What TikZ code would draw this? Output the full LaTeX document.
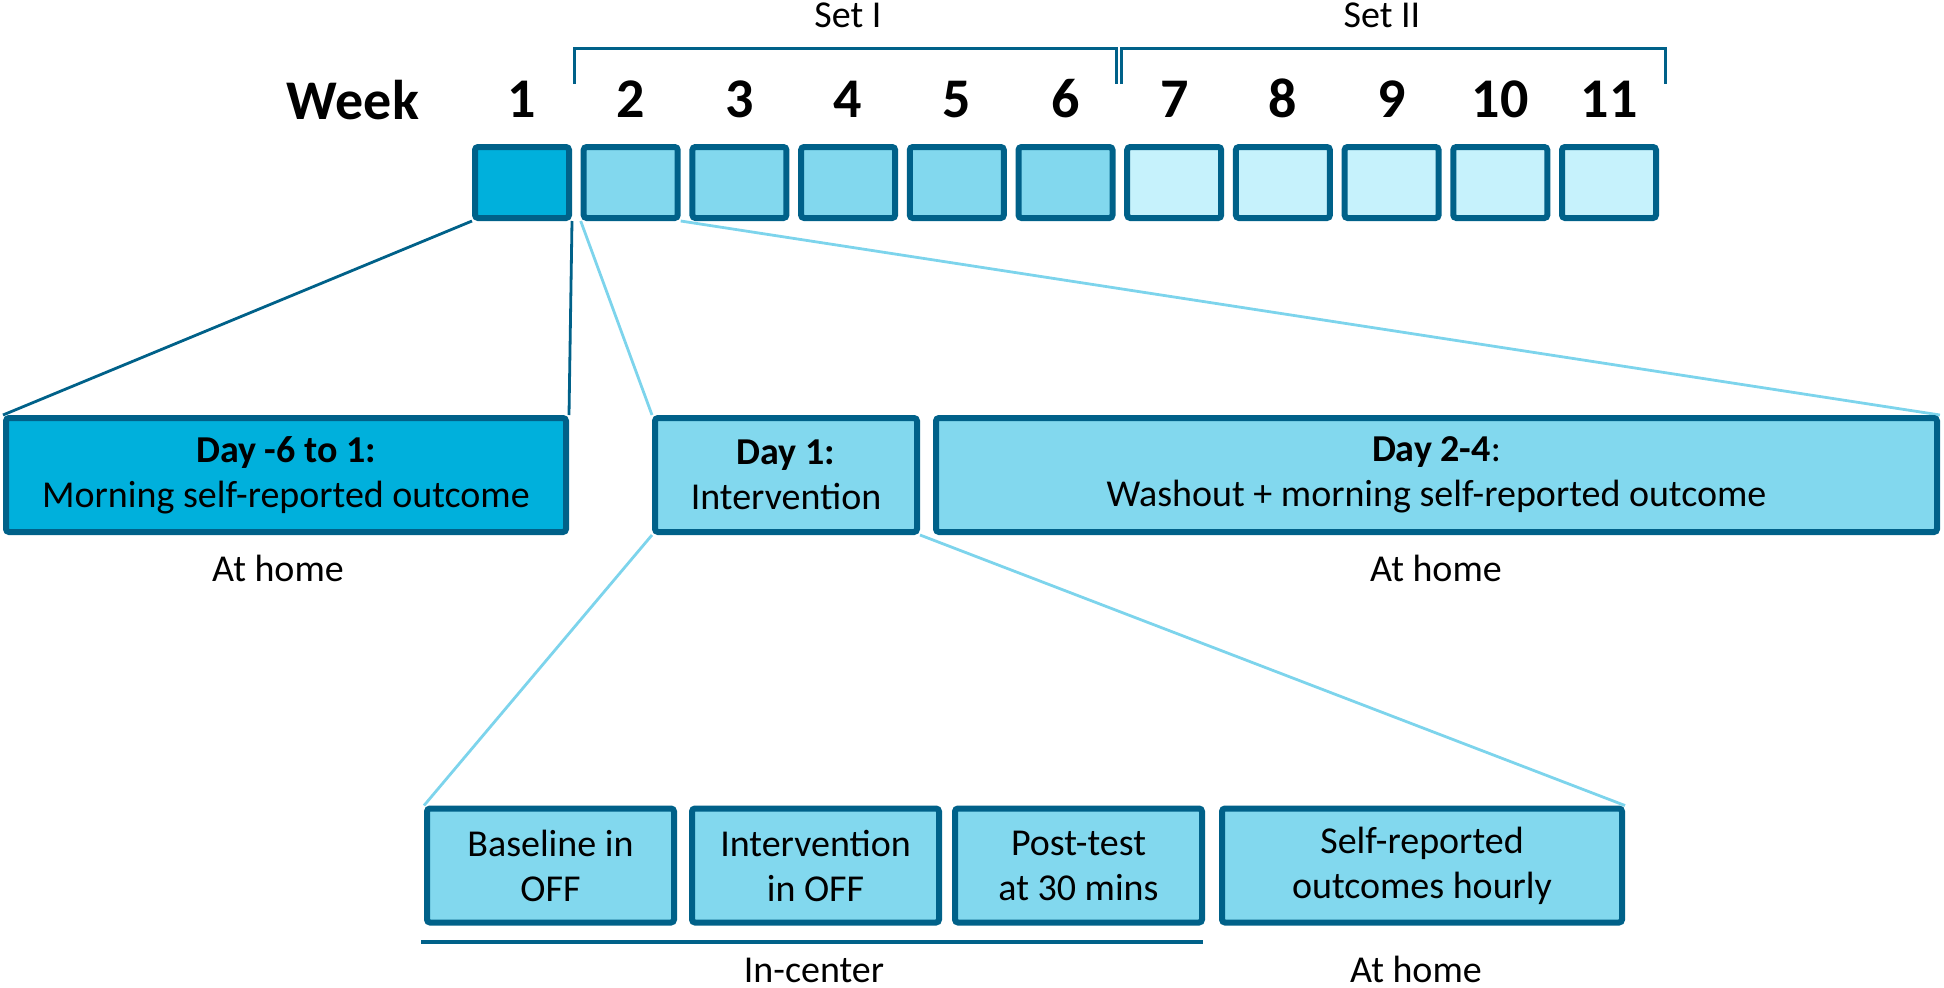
\documentclass[tikz,border=0pt]{standalone}
\usepackage{fontspec}
\setmainfont{Carlito}
\usetikzlibrary{calc}
\usetikzlibrary{backgrounds}

\definecolor{bordure}{RGB}{0,97,137}
\definecolor{cyanfonce}{RGB}{0,176,220}
\definecolor{cyanmoyen}{RGB}{130,216,238}
\definecolor{cyanclair}{RGB}{198,242,252}
\definecolor{traitclair}{RGB}{125,212,236}

\begin{document}
\begin{tikzpicture}[x=1pt,y=-1pt,
  every node/.style={font=\fontsize{38}{45}\selectfont},
  boite/.style={draw=bordure, line width=6pt, rounded corners=3pt, inner sep=0pt, align=center},
  weekbox/.style={boite, minimum width=94pt, minimum height=71pt},
  daybox/.style={boite, fill=cyanmoyen, minimum height=114pt},
  gros/.style={font=\fontsize{56}{60}\selectfont\bfseries},
  legende/.style={anchor=base, inner sep=0pt},
  crochet/.style={draw=bordure, line width=3pt},
  lienfonce/.style={draw=bordure, line width=2.8pt},
  lienclair/.style={draw=traitclair, line width=2.8pt}]

\useasboundingbox (0,0) rectangle (1944,988);

%%%%%%%%%%%%%%%%%%%%%%%%
%Semaines
%%%%%%%%%%%%%%%%%%%%%%%%

    %Pas entre deux semaines
    \def \WeekStep {108.7}
    %Abscisse du centre de la semaine 1
    \def \WeekX {522}

\node[gros, anchor=base] (week) at (353,119) {Week};
\foreach \n in {1,...,11}{
    \ifnum\n=1 \def\fond{cyanfonce}\else\ifnum\n<7 \def\fond{cyanmoyen}\else\def\fond{cyanclair}\fi\fi
    \node[weekbox, fill=\fond] (w\n) at ({\WeekX+\WeekStep*(\n-1)},182.5) {};
    \node[gros, anchor=base] (n\n) at ({\WeekX+\WeekStep*(\n-1)},117) {\n};
}

% crochets des deux séries
\draw[crochet] (574,84) -- (574,48) -- (1116,48) -- (1116,84);
\draw[crochet] (1121,84) -- (1121,48) -- (1665,48) -- (1665,84);
\node[legende] (set1) at (848,27) {Set I};
\node[legende] (set2) at (1382,27) {Set II};

%%%%%%%%%%%%%%%%%%%%%%%%
%Jours
%%%%%%%%%%%%%%%%%%%%%%%%

\node[daybox, fill=cyanfonce, minimum width=560pt] (d1) at (286,475) {\textbf{Day -6 to 1:}\\Morning self-reported outcome};
\node[daybox, minimum width=262pt] (d2) at (786,475) {\textbf{Day 1:}\\Intervention};
\node[daybox, minimum width=1001pt] (d3) at (1436.5,475) {\textbf{Day 2-4}:\\Washout + morning self-reported outcome};
\node[legende] (home1) at (278,581) {At home};
\node[legende] (home2) at (1436,581) {At home};

%%%%%%%%%%%%%%%%%%%%%%%%
%Détail du jour 1
%%%%%%%%%%%%%%%%%%%%%%%%

\node[daybox, minimum width=247pt] (b1) at (550.5,865.5) {Baseline in\\OFF};
\node[daybox, minimum width=247pt] (b2) at (815.5,865.5) {Intervention\\in OFF};
\node[daybox, minimum width=247pt] (b3) at (1078.5,865.5) {Post-test\\at 30 mins};
\node[daybox, minimum width=400pt] (b4) at (1422,865.5) {Self-reported\\outcomes hourly};
\draw[bordure, line width=4pt] ([xshift=-3pt,yshift=-16pt]b1.south west) -- ([xshift=-2pt,yshift=-16pt]b3.south east);
\node[legende] (centre) at (814,982) {In-center};
\node[legende] (home3) at (1416,982) {At home};

% traits de zoom, sous les boites
\begin{pgfonlayer}{background}
\draw[lienfonce] (w1.south west) -- (d1.north west);
\draw[lienfonce] (w1.south east) -- (d1.north east);
\draw[lienclair] (w2.south west) -- (d2.north west);
\draw[lienclair] (w2.south east) -- (d3.north east);
\draw[lienclair] (d2.south west) -- (b1.north west);
\draw[lienclair] (d2.south east) -- (b4.north east);
\end{pgfonlayer}

\end{tikzpicture}
\end{document}
